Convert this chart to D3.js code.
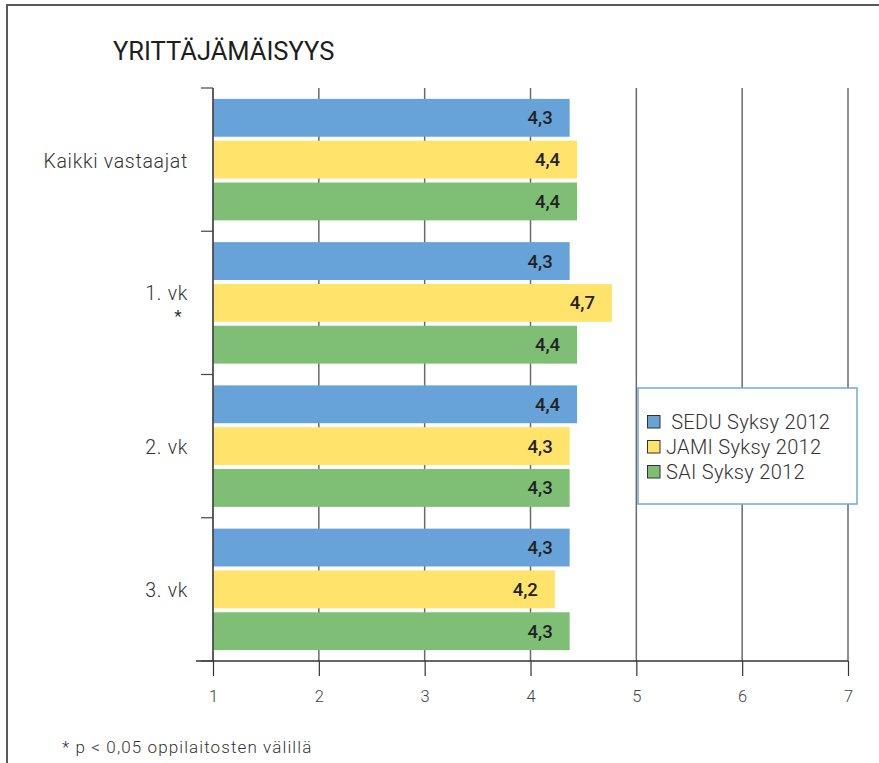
<!DOCTYPE html>
<html>
<head>
<meta charset="utf-8">
<script src="https://cdn.jsdelivr.net/npm/d3@7"></script>
<style>
  html, body { margin: 0; padding: 0; background: #fff; }
  svg { display: block; font-family: Roboto, "Noto Sans", sans-serif; }
</style>
</head>
<body>
<svg id="chart" width="879" height="763"></svg>
<script>
const title = "YRITTÄJÄMÄISYYS";
const categories = ["Kaikki vastaajat", "1. vk", "2. vk", "3. vk"];
const categoryNotes = ["", "*", "", ""];
const seriesNames = [" SEDU Syksy 2012", "JAMI Syksy 2012", "SAI Syksy 2012"];
const seriesColors = ["#67a3d9", "#ffe36b", "#7fbf75"];
const sedu = [4.37, 4.37, 4.44, 4.37];
const jami = [4.44, 4.77, 4.37, 4.23];
const sai  = [4.44, 4.44, 4.37, 4.37];
const seduLabels = ["4,3", "4,3", "4,4", "4,3"];
const jamiLabels = ["4,4", "4,7", "4,3", "4,2"];
const saiLabels  = ["4,4", "4,4", "4,3", "4,3"];
const xTicks = [1, 2, 3, 4, 5, 6, 7];
const footnote = "* p < 0,05 oppilaitosten välillä";

const series = [sedu, jami, sai];
const seriesLabels = [seduLabels, jamiLabels, saiLabels];

const svg = d3.select("#chart");

// outer frame (left and top border)
svg.append("path")
  .attr("d", "M7,763 L7,5 L879,5")
  .attr("fill", "none").attr("stroke", "#5a5a5a").attr("stroke-width", 2);

// title
svg.append("text").attr("x", 113).attr("y", 60)
  .attr("font-size", 25.5).attr("fill", "#1e1e1e").text(title);

const x = d3.scaleLinear().domain([1, 7]).range([213, 848]);
const y = d3.scaleBand().domain(categories).range([88, 661]).padding(0);
const yInner = d3.scaleBand().domain(d3.range(series.length))
  .range([0, y.bandwidth()]).paddingInner(0.095).paddingOuter(0.26);

// gridlines
svg.append("g").selectAll("line").data(xTicks.slice(1)).join("line")
  .attr("x1", d => x(d)).attr("x2", d => x(d))
  .attr("y1", 88).attr("y2", 661)
  .attr("stroke", "#6a6a6a").attr("stroke-width", 1.5);

// bars
const groups = svg.append("g").selectAll("g").data(categories).join("g")
  .attr("transform", d => `translate(0,${y(d)})`);

series.forEach((vals, si) => {
  groups.append("rect")
    .attr("x", x(1) + 0.5)
    .attr("y", yInner(si))
    .attr("width", (d, i) => x(vals[i]) - x(1) - 0.5)
    .attr("height", yInner.bandwidth())
    .attr("fill", seriesColors[si]);
  groups.append("text")
    .attr("x", (d, i) => x(vals[i]) - 17)
    .attr("y", yInner(si) + yInner.bandwidth() / 2 + 6.5)
    .attr("text-anchor", "end")
    .attr("font-size", 18.5).attr("font-weight", 500)
    .attr("fill", "#222")
    .text((d, i) => seriesLabels[si][i]);
});

// bottom axis
const xAxis = d3.axisBottom(x).tickValues(xTicks).tickSize(15).tickPadding(14)
  .tickFormat(d3.format("d"));
const gx = svg.append("g").attr("transform", "translate(0,661)").call(xAxis);
gx.select(".domain").remove();
gx.selectAll(".tick line").attr("stroke", "#333").attr("stroke-width", 1.2);
gx.selectAll(".tick text").attr("font-size", 16.5).attr("fill", "#444")
  .attr("font-family", "Roboto, sans-serif").attr("font-weight", 300);
svg.append("line").attr("x1", 196).attr("x2", 848).attr("y1", 661).attr("y2", 661)
  .attr("stroke", "#333").attr("stroke-width", 1.5);

// left axis
svg.append("line").attr("x1", x(1)).attr("x2", x(1)).attr("y1", 88).attr("y2", 661)
  .attr("stroke", "#2a2a2a").attr("stroke-width", 1.5);
const sepY = categories.map(c => y(c)).concat([y.range()[1]]);
svg.append("g").selectAll("line").data(sepY).join("line")
  .attr("x1", 201).attr("x2", x(1)).attr("y1", d => d).attr("y2", d => d)
  .attr("stroke", "#444").attr("stroke-width", 1.2);

// category labels
categories.forEach((c, i) => {
  const cy = y(c) + y.bandwidth() / 2;
  const hasNote = categoryNotes[i] !== "";
  svg.append("text").attr("x", 188).attr("y", cy + (hasNote ? -3 : 8))
    .attr("text-anchor", "end").attr("font-size", 19.5).attr("fill", "#333")
    .attr("letter-spacing", 0.7)
    .attr("font-weight", 300).text(c);
  if (hasNote) {
    svg.append("text").attr("x", 178).attr("y", cy + 19)
      .attr("text-anchor", "middle").attr("font-size", 17).attr("fill", "#333")
      .text(categoryNotes[i]);
  }
});

// legend
const lg = svg.append("g");
lg.append("rect").attr("x", 638).attr("y", 388).attr("width", 219).attr("height", 116)
  .attr("fill", "#fff").attr("stroke", "#6fa8dc").attr("stroke-width", 1.5);
seriesNames.forEach((n, i) => {
  const yy = 415.5 + i * 25;
  lg.append("rect").attr("x", 647.5).attr("y", yy).attr("width", 12.5).attr("height", 12.5)
    .attr("fill", seriesColors[i]).attr("stroke", "#333").attr("stroke-width", 1);
  lg.append("text").attr("x", 666).attr("y", yy + 13.5)
    .attr("font-size", 20).attr("fill", "#333").attr("font-weight", 300)
    .attr("letter-spacing", 0.3)
    .attr("xml:space", "preserve").style("white-space", "pre").text(n);
});

// footnote
svg.append("text").attr("x", 62).attr("y", 753)
  .attr("font-size", 17).attr("fill", "#333").attr("font-weight", 300)
  .attr("letter-spacing", 1.1).text(footnote);
</script>
</body>
</html>
